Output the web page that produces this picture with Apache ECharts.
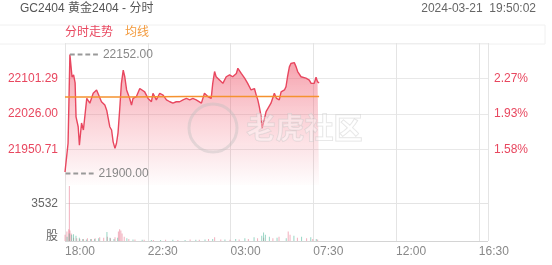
<!DOCTYPE html>
<html>
<head>
<meta charset="utf-8">
<script src="https://cdn.jsdelivr.net/npm/echarts@6/dist/echarts.min.js"></script>
<style>html,body{margin:0;padding:0;background:#fff;}#c{width:552px;height:265px;}</style>
</head>
<body>
<div id="c"></div>
<script>
// ---- data (minutes after 18:00) ----
var xTickMinutes = [0, 270, 540, 810, 1080, 1350];
var prevClose = 21610;
var priceTimes = [0,2,10,16,23,28,33,36,43,47,54,60,71,76,81,92,103,108,119,130,136,141,146,152,157,163,168,173,179,184,190,195,201,206,211,217,222,233,244,250,260,271,282,287,298,309,320,331,342,352,363,374,385,396,407,417,428,434,445,455,466,477,482,488,493,504,515,526,537,547,553,559,564,569,575,586,596,607,618,624,629,634,640,643,651,656,661,672,683,690,699,705,716,721,726,732,737,748,754,759,770,775,786,797,803,808,813,819,824,829];
var priceValues = [21903,21900,21964,22152,22104,22109,22092,22020,21999,21960,22007,21992,22059,22063,22049,22070,22077,22073,22052,22045,22034,22033,21999,21992,21967,21953,21964,21986,22041,22091,22119,22105,22077,22073,22059,22045,22059,22063,22080,22077,22073,22059,22052,22070,22056,22070,22066,22056,22052,22049,22052,22052,22056,22059,22056,22059,22056,22059,22049,22070,22063,22059,22091,22116,22105,22098,22091,22105,22109,22105,22102,22112,22123,22119,22112,22102,22091,22077,22080,22066,22056,22041,22020,21996,22017,22031,22027,22049,22070,22059,22056,22073,22077,22084,22105,22126,22133,22135,22126,22116,22105,22109,22102,22098,22091,22094,22091,22104,22094,22092];
var avgTimes = [0, 200, 400, 600, 829];
var avgValues = [22062, 22062, 22063, 22063, 22063];
var volUpTimes = [2,8,14,16,18,22,30,40,50,62,75,88,100,115,128,140,150,165,176,180,184,188,195,210,230,260,290,330,370,410,440,470,490,510,540,570,600,630,650,680,700,730,736,760,790,810,826];
var volUpValues = [600,900,1100,5200,1000,700,300,250,200,180,250,200,250,350,300,400,250,350,900,1100,1000,700,400,200,150,120,100,120,100,150,120,200,350,150,120,150,200,250,300,250,400,900,600,300,250,200,150];
var volDownTimes = [5,12,20,26,34,45,56,68,82,95,108,135,145,158,170,200,220,250,280,310,350,390,425,455,480,520,555,585,615,640,646,652,665,690,720,745,770,800,818];
var volDownValues = [400,700,600,650,500,300,200,150,200,180,250,850,300,200,300,250,150,120,100,100,120,100,120,150,200,150,200,250,350,500,800,600,400,300,250,500,400,350,200];

function zip(a, b) { return a.map(function (t, i) { return [t, b[i]]; }); }
function fmtTime(m) {
  var t = (18 * 60 + m) % 1440;
  var h = Math.floor(t / 60), mm = t % 60;
  return (h < 10 ? '0' : '') + h + ':' + (mm < 10 ? '0' : '') + mm;
}
var FONT = "Arial, 'Liberation Sans', 'Noto Sans CJK SC', sans-serif";
var RED = '#e8475f';
var dash = 'path://M0,0h5v1h-5zM8,0h5v1h-5zM16,0h5v1h-5zM24,0h5v1h-5z';

var chart = echarts.init(document.getElementById('c'), null, {renderer: 'canvas'});
chart.setOption({
  animation: false,
  textStyle: {fontFamily: FONT},
  graphic: [
    {type: 'rect', shape: {x: -1, y: 25, width: 546, height: 19}, style: {fill: 'none', stroke: '#f0f0f0', lineWidth: 1}, silent: true},
    {type: 'text', left: 20, top: 3, style: {text: 'GC2404 黄金2404 - 分时', fill: '#555', font: '12px ' + FONT}},
    {type: 'text', right: 16, top: 3, style: {text: '2024-03-21  19:50:02', fill: '#666', font: '12px ' + FONT}},
    {type: 'text', left: 65, top: 27, style: {text: '分时走势', fill: RED, font: '12px ' + FONT}},
    {type: 'text', left: 125, top: 27, style: {text: '均线', fill: '#f39a3c', font: '12px ' + FONT}},
    {type: 'circle', shape: {cx: 213, cy: 128, r: 24}, z: 50, style: {fill: 'none', stroke: 'rgba(190,190,190,0.4)', lineWidth: 3}, silent: true},
    {type: 'text', left: 246, top: 113, z: 50, style: {text: '老虎社区', fill: 'rgba(255,255,255,0.35)', stroke: 'rgba(190,190,190,0.45)', lineWidth: 1, font: 'bold 29px "Noto Sans CJK SC", sans-serif'}, silent: true}
  ],
  grid: [
    {left: 65, right: 64, top: 43, height: 142},
    {left: 65, right: 64, top: 185, height: 56}
  ],
  xAxis: [
    {type: 'value', gridIndex: 0, min: 0, max: 1380, interval: 270,
     axisLine: {show: false}, axisTick: {show: false}, axisLabel: {show: false},
     splitLine: {show: true, lineStyle: {color: '#e4e4e4', width: 1}}},
    {type: 'value', gridIndex: 1, min: 0, max: 1380, interval: 270,
     axisLine: {show: false}, axisTick: {show: false},
     axisLabel: {show: true, showMaxLabel: false, align: 'left', color: '#888', fontSize: 12, margin: 5,
                 formatter: function (v) { return fmtTime(v); }},
     splitLine: {show: true, lineStyle: {color: '#e4e4e4', width: 1}}}
  ],
  yAxis: [
    {type: 'value', gridIndex: 0, min: 21875.42, max: 22176.58, interval: 75.29, position: 'left',
     axisLine: {show: false}, axisTick: {show: false},
     axisLabel: {showMinLabel: false, showMaxLabel: false, color: RED, fontSize: 12, margin: 7,
                 formatter: function (v) { return v.toFixed(2); }},
     splitLine: {show: true, lineStyle: {color: ['rgba(0,0,0,0)', '#e8e8e8', '#e8e8e8', '#e8e8e8', '#eeeeee']}}},
    {type: 'value', gridIndex: 0, min: 21875.42, max: 22176.58, interval: 75.29, position: 'right',
     axisLine: {show: false}, axisTick: {show: false},
     axisLabel: {showMinLabel: false, showMaxLabel: false, color: RED, fontSize: 12, margin: 6,
                 formatter: function (v) { return ((v / prevClose - 1) * 100).toFixed(2) + '%'; }},
     splitLine: {show: false}},
    {type: 'value', gridIndex: 1, min: 0, max: 5298, interval: 3532,
     axisLine: {show: false}, axisTick: {show: false},
     axisLabel: {showMaxLabel: false, color: '#666', fontSize: 12, margin: 7,
                 formatter: function (v) { return v === 0 ? '{b|股}' : '{a|' + v + '}'; },
                 rich: {a: {fontSize: 12, color: '#666'}, b: {fontSize: 12, color: '#666', padding: [0, 0, 8, 0]}}},
     splitLine: {show: true, lineStyle: {color: ['#d4d4d4', '#e4e4e4', 'rgba(0,0,0,0)']}}}
  ],
  series: [
    {type: 'line', name: '分时走势', xAxisIndex: 0, yAxisIndex: 0, data: zip(priceTimes, priceValues),
     showSymbol: false, symbol: 'none', lineStyle: {color: RED, width: 1.4}, itemStyle: {color: RED},
     areaStyle: {color: new echarts.graphic.LinearGradient(0, 0, 0, 1, [
       {offset: 0, color: 'rgba(238,72,95,0.78)'}, {offset: 0.5, color: 'rgba(240,90,110,0.38)'}, {offset: 1, color: 'rgba(240,90,110,0.02)'}])},
     markPoint: {
       symbol: dash, symbolSize: [28, 2], symbolOffset: [14, 0], itemStyle: {color: '#999'},
       label: {show: true, position: 'right', distance: 5, color: '#888', fontSize: 12,
               formatter: function (p) { return Number(p.value).toFixed(2); }},
       data: [{type: 'max', valueDim: 'y'}, {type: 'min', valueDim: 'y'}]
     }},
    {type: 'line', name: '均线', xAxisIndex: 0, yAxisIndex: 0, data: zip(avgTimes, avgValues),
     showSymbol: false, symbol: 'none', lineStyle: {color: '#f5922f', width: 1.5}},
    {type: 'bar', xAxisIndex: 1, yAxisIndex: 2, data: zip(volUpTimes, volUpValues), barWidth: 1,
     itemStyle: {color: 'rgba(232,110,135,0.55)'}},
    {type: 'bar', xAxisIndex: 1, yAxisIndex: 2, data: zip(volDownTimes, volDownValues), barWidth: 1,
     itemStyle: {color: 'rgba(70,180,150,0.55)'}}
  ]
});
</script>
</body>
</html>
